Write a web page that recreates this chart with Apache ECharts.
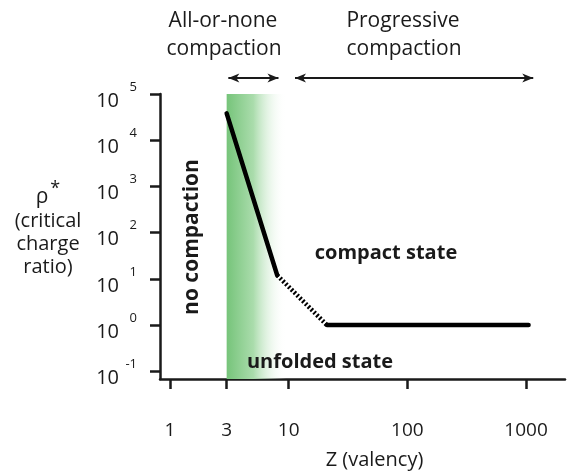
<!DOCTYPE html>
<html>
<head>
<meta charset="utf-8">
<script src="https://cdn.jsdelivr.net/npm/echarts@6/dist/echarts.min.js"></script>
<style>
html,body{margin:0;padding:0;background:#fff;}
#c{width:569px;height:475px;}
</style>
</head>
<body>
<div id="c"></div>
<script>
// ---- data ----
const zSteep = [3, 8];
const rhoSteep = [38000, 12];
const zDotted = [8, 21];
const rhoDotted = [12, 1];
const zFlat = [21, 1050];
const rhoFlat = [1, 1];
const xTicks = [1, 3, 10, 100, 1000];
const yTicks = [0.1, 1, 10, 100, 1000, 10000, 100000];
const yTickExp = ['-1', '0', '1', '2', '3', '4', '5'];
const bandZ = [3, 9.5];
const arrowRanges = [[3.1, 8.2], [11.3, 1150]];

const FONT = '"Open Sans", sans-serif';
const INK = '#1a1a1a';

const pairs = (xs, ys) => xs.map((x, i) => [x, ys[i]]);

const chart = echarts.init(document.getElementById('c'), null, {renderer: 'canvas'});

const option = {
  animation: false,
  backgroundColor: '#fff',
  grid: {left: 160, right: 4, top: 94, bottom: 84, containLabel: false},
  xAxis: {
    type: 'log', logBase: 10, min: 0.823, max: 2130,
    name: 'Z (valency)', nameLocation: 'middle', nameGap: 71,
    nameTextStyle: {fontFamily: FONT, fontSize: 20, color: INK, padding: [0, 0, 0, 24]},
    axisLine: {lineStyle: {color: INK, width: 2.5}},
    axisTick: {customValues: xTicks, length: 10, lineStyle: {color: INK, width: 2.5}},
    axisLabel: {customValues: xTicks, margin: 42, fontFamily: FONT, fontSize: 19, color: INK,
      formatter: v => String(v)},
    splitLine: {show: false}, minorTick: {show: false}
  },
  yAxis: {
    type: 'log', logBase: 10, min: 0.0682, max: 100000,
    axisLine: {lineStyle: {color: INK, width: 2.5}},
    axisTick: {customValues: yTicks, length: 10, lineStyle: {color: INK, width: 2.5}},
    axisLabel: {customValues: yTicks, margin: 23, color: INK,
      formatter: v => {
        const i = yTicks.findIndex(t => Math.abs(t - v) / t < 1e-6);
        return '{s|' + yTickExp[i] + '}\n{b|10}{w| }';
      },
      rich: {
        b: {fontFamily: FONT, fontSize: 20, lineHeight: 14, color: INK},
        w: {fontFamily: FONT, fontSize: 13, lineHeight: 14, width: 18, color: INK},
        s: {fontFamily: FONT, fontSize: 13, lineHeight: 14, color: INK}
      }
    },
    splitLine: {show: false}, minorTick: {show: false}
  },
  series: [
    {
      type: 'line', data: pairs(zSteep, rhoSteep), symbol: 'none',
      lineStyle: {color: '#000', width: 4.5, cap: 'round'},
      z: 5,
      markArea: {
        silent: true,
        itemStyle: {
          color: {type: 'linear', x: 0, y: 0, x2: 1, y2: 0,
            colorStops: [
              {offset: 0, color: 'rgba(118,196,122,1)'},
              {offset: 0.45, color: 'rgba(170,220,172,1)'},
              {offset: 1, color: 'rgba(255,255,255,0)'}
            ]}
        },
        data: [[{xAxis: bandZ[0], yAxis: 0.0682}, {xAxis: bandZ[1], yAxis: 100000}]]
      }
    },
    {
      type: 'line', data: pairs(zDotted, rhoDotted), symbol: 'none',
      lineStyle: {color: '#000', width: 4.5, type: [2, 2]}, z: 5
    },
    {
      type: 'line', data: pairs(zFlat, rhoFlat), symbol: 'none',
      lineStyle: {color: '#000', width: 4.5, cap: 'round'}, z: 5
    }
  ]
};
chart.setOption(option);

// annotations
const arrowY = 78;
const graphics = [];
arrowRanges.forEach(r => {
  const x1 = chart.convertToPixel({xAxisIndex: 0}, r[0]);
  const x2 = chart.convertToPixel({xAxisIndex: 0}, r[1]);
  graphics.push({type: 'line', z: 100, shape: {x1: x1, y1: arrowY, x2: x2, y2: arrowY}, style: {stroke: INK, lineWidth: 2}});
  graphics.push({type: 'polygon', z: 100, shape: {points: [[x1, arrowY], [x1 + 11, arrowY - 4.5], [x1 + 8, arrowY], [x1 + 11, arrowY + 4.5]]}, style: {fill: INK}});
  graphics.push({type: 'polygon', z: 100, shape: {points: [[x2, arrowY], [x2 - 11, arrowY - 4.5], [x2 - 8, arrowY], [x2 - 11, arrowY + 4.5]]}, style: {fill: INK}});
});
const txt = (x, y, s, opts) => ({
  type: 'text', x: x, y: y, z: 100,
  style: Object.assign({text: s, fill: INK, font: '21px ' + FONT, align: 'center', verticalAlign: 'middle'}, opts || {})
});
graphics.push(txt(223, 21, 'All-or-none'));
graphics.push(txt(224, 49, 'compaction'));
graphics.push(txt(403, 21, 'Progressive'));
graphics.push(txt(404, 49, 'compaction'));
graphics.push(txt(386, 253, 'compact state', {font: 'bold 20px ' + FONT}));
graphics.push(txt(320, 362, 'unfolded state', {font: 'bold 20px ' + FONT}));
graphics.push(Object.assign(txt(0, 0, 'no compaction', {font: 'bold 21px ' + FONT}), {x: 192, y: 237, rotation: Math.PI / 2}));
// y axis title
graphics.push({
  type: 'text', x: 48, y: 232, z: 100,
  style: {
    text: '{r|ρ}{a|*}\n{t|(critical}\n{t|charge}\n{t|ratio)}',
    align: 'center', verticalAlign: 'middle',
    rich: {
      r: {font: '21px ' + FONT, fill: INK, lineHeight: 24},
      a: {font: '18px ' + FONT, fill: INK, lineHeight: 24, padding: [0, 0, 18, 2]},
      t: {font: '20px ' + FONT, fill: INK, lineHeight: 23}
    }
  }
});
chart.setOption({graphic: graphics});
</script>
</body>
</html>
